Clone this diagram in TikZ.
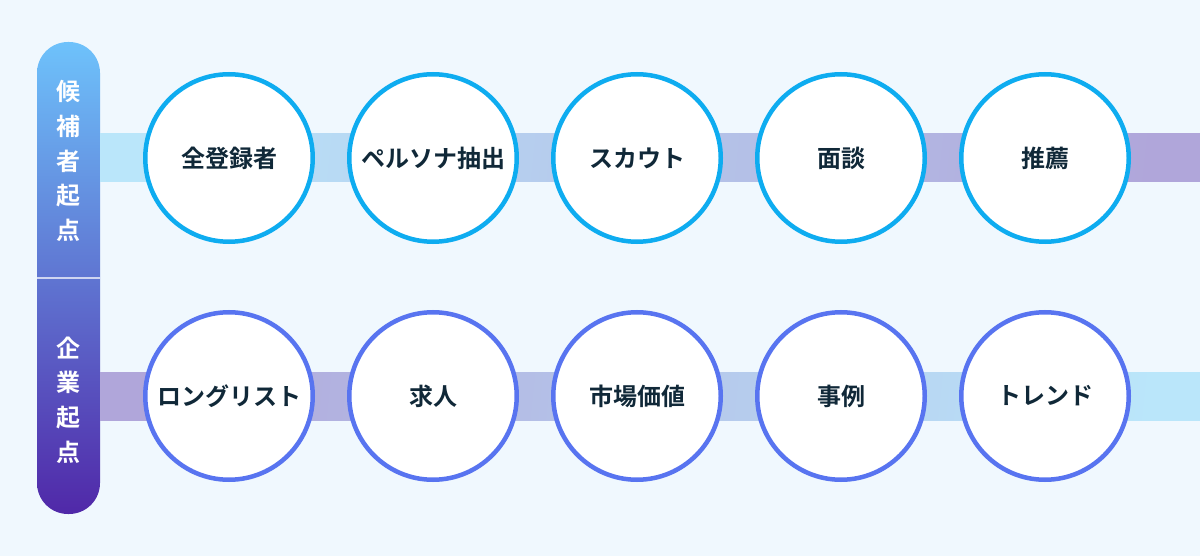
\documentclass[tikz,border=0pt]{standalone}
\usepackage{fontspec}
\setmainfont{Noto Sans CJK JP}[BoldFont={* Bold}]
\usetikzlibrary{calc}
\definecolor{bg}{RGB}{240,248,254}
\definecolor{ink}{RGB}{16,40,56}
\definecolor{topring}{RGB}{14,172,240}
\definecolor{botring}{RGB}{88,116,240}
\definecolor{bandcyan}{RGB}{186,230,250}
\definecolor{bandpurple}{RGB}{176,166,218}
\definecolor{pilltop}{RGB}{110,194,251}
\definecolor{pillmid}{RGB}{106,128,243}
\definecolor{pillbot}{RGB}{80,40,168}
\begin{document}
\begin{tikzpicture}[x=1pt,y=-1pt,
  candc/.style={circle, minimum size=167.5pt, inner sep=0pt, fill=white, draw=topring, line width=4.5pt, text=ink, font=\bfseries\fontsize{24}{28}\selectfont},
  corpc/.style={candc, draw=botring},
  sidelab/.style={text=white, align=center, inner sep=0pt, font=\bfseries\fontsize{24}{34.7}\selectfont}]
\fill[bg] (0,0) rectangle (1200,556);
\useasboundingbox (0,0) rectangle (1200,556);
\node[rectangle, rounded corners=31pt, minimum width=63pt, minimum height=472pt, top color=pilltop, middle color=pillmid, bottom color=pillbot] (pill) at (68.5,278){};
\draw[white, opacity=.7, line width=1.5pt] (pill.west) -- (pill.east);
\node[sidelab] (candlab) at (68.5,161){候\\補\\者\\起\\点};
\node[sidelab] (corplab) at (68.5,400){企\\業\\起\\点};
\coordinate (candend) at (1200,158);
\coordinate (corpend) at (1200,396);
% bands behind the circles
\shade[left color=bandcyan, right color=bandpurple, shading angle=84] ($(pill.east|-candend)+(0,-24)$) rectangle ($(candend)+(0,24)$);
\shade[left color=bandpurple, right color=bandcyan, shading angle=84] ($(pill.east|-corpend)+(0,-24)$) rectangle ($(corpend)+(0,24)$);
\node[candc] (cand1) at (229,158){全登録者};
\node[candc] (cand2) at (433,158){ペルソナ抽出};
\node[candc] (cand3) at (637,158){スカウト};
\node[candc] (cand4) at (841,158){面談};
\node[candc] (cand5) at (1045,158){推薦};
\node[corpc] (corp1) at (229,396){ロングリスト};
\node[corpc] (corp2) at (433,396){求人};
\node[corpc] (corp3) at (637,396){市場価値};
\node[corpc] (corp4) at (841,396){事例};
\node[corpc] (corp5) at (1045,396){トレンド};
\end{tikzpicture}
\end{document}
